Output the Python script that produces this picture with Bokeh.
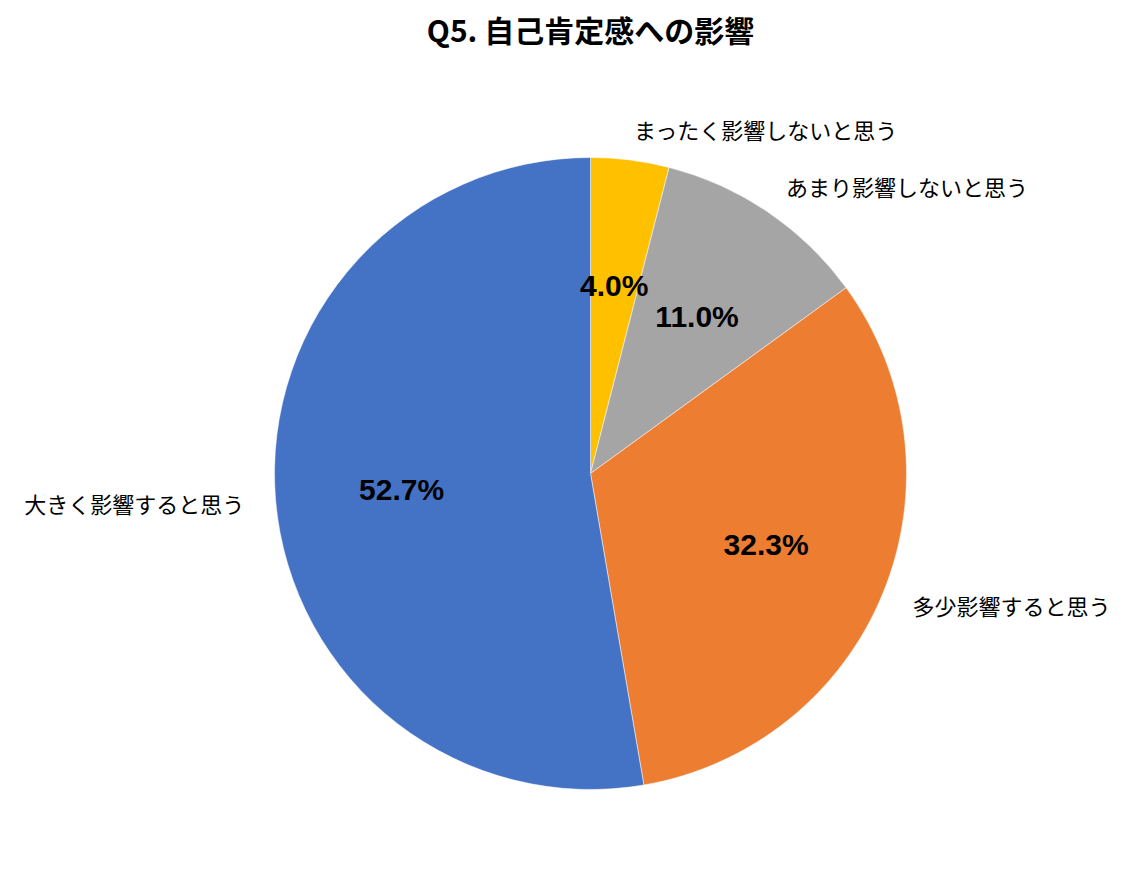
import numpy as np
from bokeh.plotting import figure
from bokeh.models import ColumnDataSource, Range1d
from bokeh.core.properties import value
from bokeh.embed import file_html
from bokeh.resources import INLINE

title = "Q5. 自己肯定感への影響"
categories = ["まったく影響しないと思う", "あまり影響しないと思う", "多少影響すると思う", "大きく影響すると思う"]
shares = [4.0, 11.0, 32.3, 52.7]
colors = ["#FFC000", "#A5A5A5", "#ED7D31", "#4472C4"]

W, H = 1116, 867
p = figure(width=W, height=H, output_backend="svg", toolbar_location=None,
           x_range=Range1d(0, W), y_range=Range1d(0, H), min_border=0)
p.axis.visible = False
p.grid.visible = False
p.outline_line_color = None
p.background_fill_color = "white"

cx, cy, r = 590, 394, 316
vals = np.array(shares)
frac = vals / vals.sum()
cum = np.concatenate([[0], np.cumsum(frac)])
start = np.pi / 2 - 2 * np.pi * cum[:-1]
end = np.pi / 2 - 2 * np.pi * cum[1:]
mid = (start + end) / 2

src = ColumnDataSource(dict(x=[cx] * 4, y=[cy] * 4, start=start, end=end, color=colors))
p.wedge(x="x", y="y", radius=r, start_angle="start", end_angle="end", direction="clock",
        fill_color="color", line_color="white", line_width=0.5, source=src)

pct = ColumnDataSource(dict(x=cx + 0.6 * r * np.cos(mid), y=cy + 0.6 * r * np.sin(mid),
                            t=[f"{v:.1f}%" for v in shares]))
p.text(x="x", y="y", text="t", source=pct, text_align="center", text_baseline="middle",
       text_font=value("Liberation Sans"), text_font_style="bold", text_font_size="30px",
       text_color="black")

lx = cx + 1.1 * r * np.cos(mid)
ly = cy + 1.1 * r * np.sin(mid)
align = ["left" if np.cos(m) >= 0 else "right" for m in mid]
lab = ColumnDataSource(dict(x=lx, y=ly, t=categories, a=align))
p.text(x="x", y="y", text="t", source=lab, text_align="a", text_baseline="middle",
       text_font=value("Noto Sans CJK JP"), text_font_size="22px", text_color="black")

p.text(x=[cx], y=[H - 28], text=[title], text_align="center", text_baseline="middle",
       text_font=value("Noto Sans CJK JP"), text_font_style="bold", text_font_size="30px",
       text_color="black")

open("out.html", "w").write(file_html(p, INLINE))
